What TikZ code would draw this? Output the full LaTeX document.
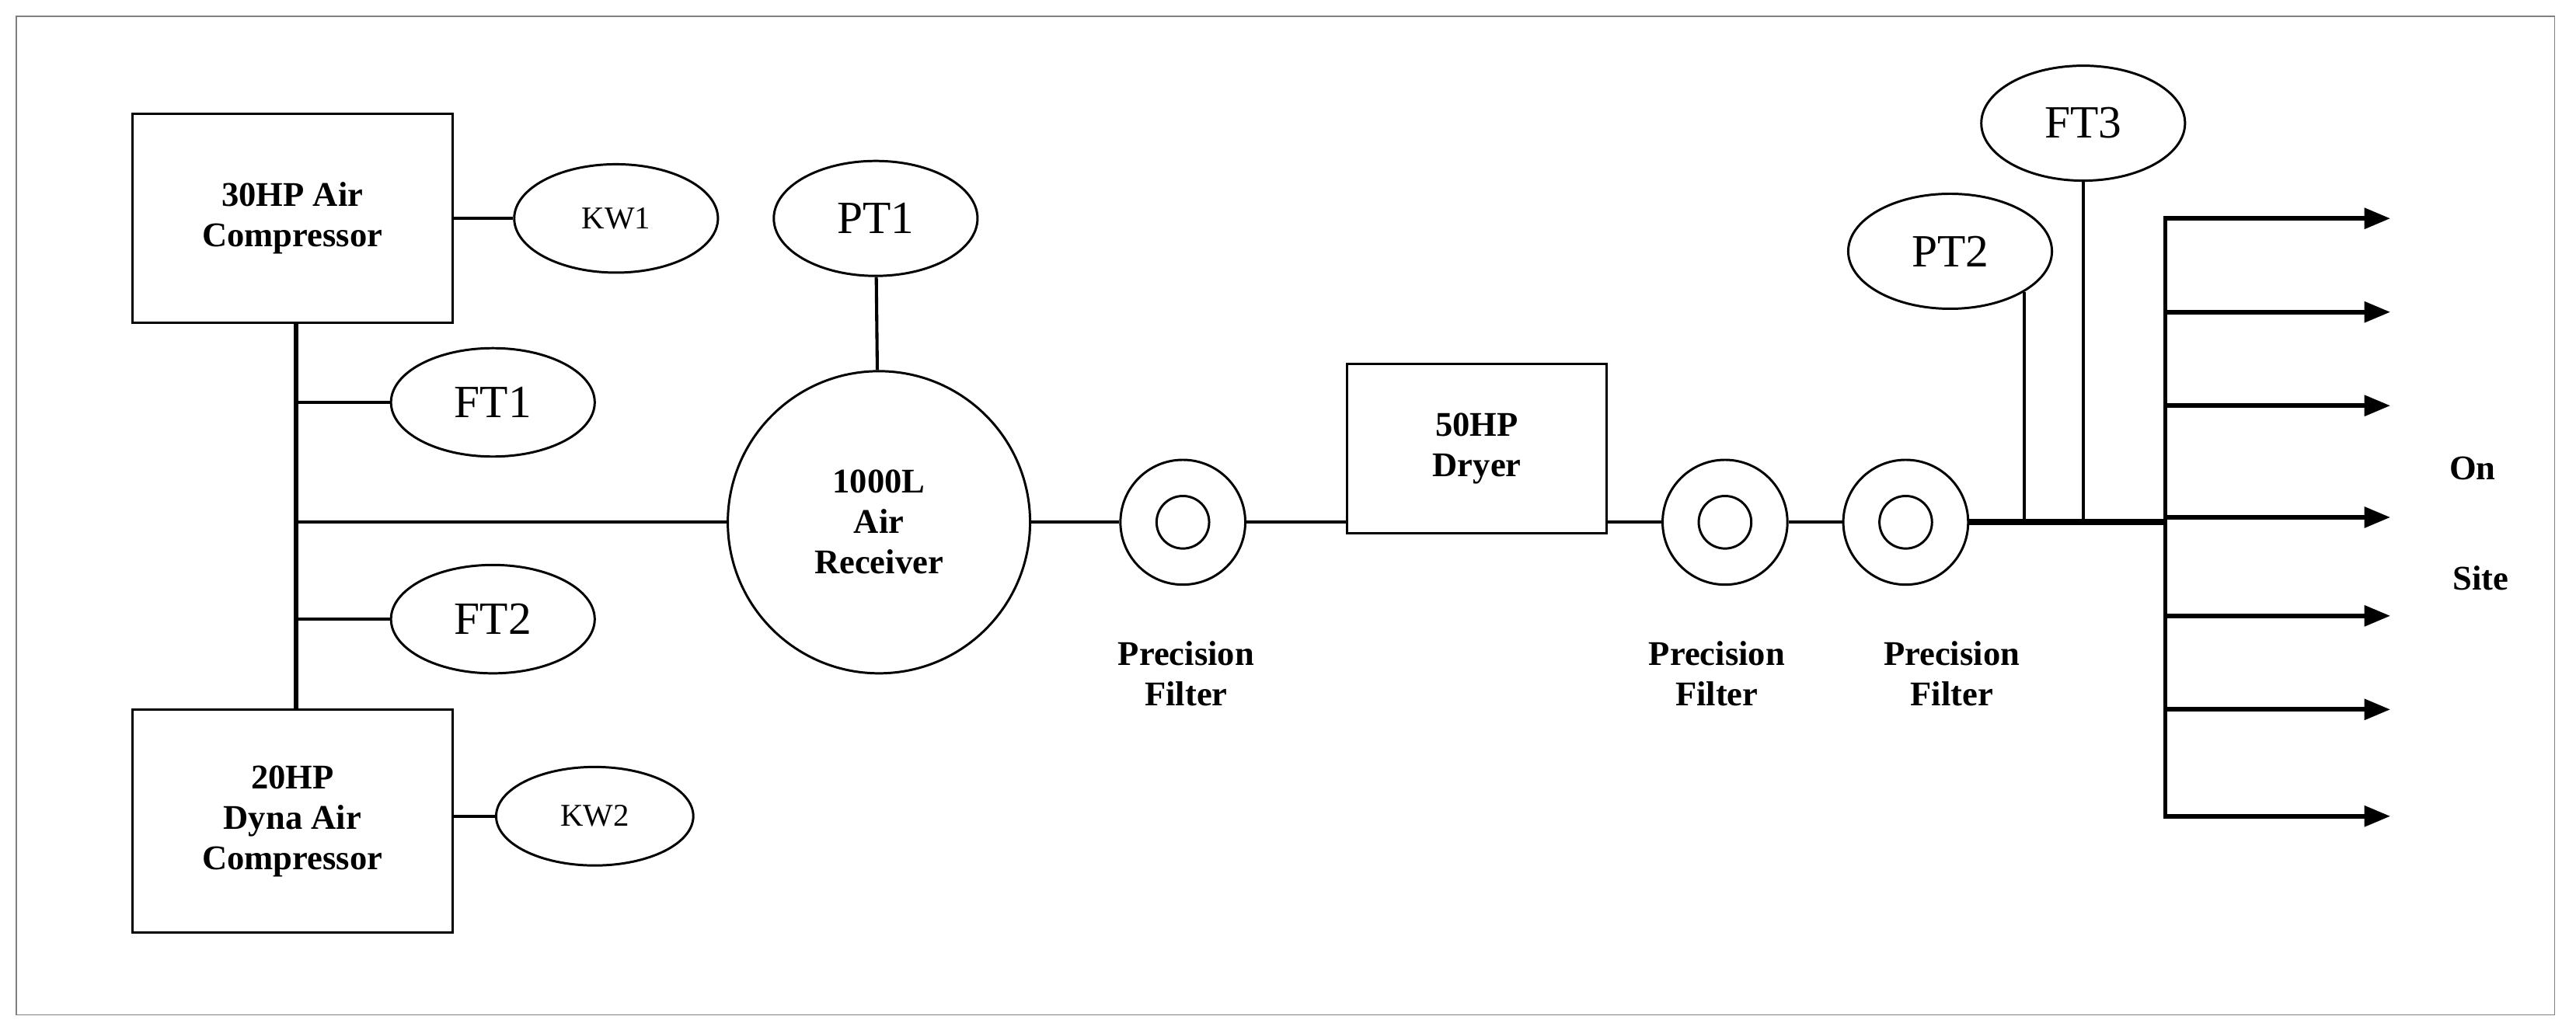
\documentclass[tikz,border=0pt]{standalone}
\usepackage{fontspec}
\setmainfont{Liberation Serif}
\usetikzlibrary{shapes.geometric,positioning,arrows.meta}
\begin{document}
\begin{tikzpicture}[x=0.02cm,y=-0.02cm,
  box/.style={draw,thick,font=\fontsize{12}{14}\selectfont\bfseries,align=center,inner sep=0pt},
  tag/.style={draw,thick,ellipse,minimum width=124*0.02cm,minimum height=66*0.02cm,inner sep=0pt,font=\fontsize{16}{18}\selectfont},
  kw/.style={tag,font=\fontsize{11}{13}\selectfont},
  filt/.style={draw,thick,circle,minimum size=76*0.02cm,inner sep=0pt},
  lbl/.style={font=\fontsize{12}{14}\selectfont\bfseries,align=center},
  pipe/.style={line width=1.1pt},
  feed/.style={line width=1.6pt,-{Triangle[length=9pt,width=7pt]}}]
\useasboundingbox (0,0) rectangle (1568,627);
\draw[gray] (10,10) rectangle (1555,618);
% compressors
\node[box,minimum width=195*0.02cm,minimum height=127*0.02cm] (c30) at (178,133) {30HP Air\\Compressor};
\node[box,minimum width=195*0.02cm,minimum height=136*0.02cm] (c20) at (178,500) {20HP\\Dyna Air\\Compressor};
\node[kw] (kw1) at (375,133) {KW1};
\node[kw,minimum width=120*0.02cm,minimum height=60*0.02cm] (kw2) at (362,497) {KW2};
\draw[pipe] (c30) -- (kw1);
\draw[pipe] (c20.east |- kw2) -- (kw2);
\draw[line width=1.6pt] (180,197) coordinate (t) -- (180,432) coordinate (b);
\node[tag] (ft1) at (300,245) {FT1};
\node[tag] (ft2) at (300,377) {FT2};
\draw[pipe] (ft1 -| t) -- (ft1);
\draw[pipe] (ft2 -| t) -- (ft2);
% receiver
\node[draw,thick,circle,minimum size=184*0.02cm,lbl,inner sep=0pt] (rec) at (535,318) {1000L\\Air\\Receiver};
\node[tag,minimum height=70*0.02cm] (pt1) at (533,133) {PT1};
\draw[pipe] (pt1) -- (rec);
\draw[pipe] (rec.west -| t) -- (rec);
% filters and dryer
\node[filt] (f1) at (720,318) {};
\draw[thick] (f1) circle[radius=16*0.02cm];
\node[lbl] at (722,410) {Precision\\Filter};
\node[box,minimum width=158*0.02cm,minimum height=103*0.02cm] (dry) at (899,273) {50HP\\Dryer};
\node[filt] (f2) at (1050,318) {};
\draw[thick] (f2) circle[radius=16*0.02cm];
\node[lbl] at (1045,410) {Precision\\Filter};
\node[filt] (f3) at (1160,318) {};
\draw[thick] (f3) circle[radius=16*0.02cm];
\node[lbl] at (1188,410) {Precision\\Filter};
\draw[pipe] (rec) -- (f1);
\draw[pipe] (f1) -- (f1 -| dry.west);
\draw[pipe] (f2 -| dry.east) -- (f2);
\draw[pipe] (f2) -- (f3);
\draw[line width=2.2pt] (f3) -- (1318,318) coordinate (hub);
% transmitters
\node[tag,minimum height=70*0.02cm] (pt2) at (1187,153) {PT2};
\node[tag,minimum height=70*0.02cm] (ft3) at (1268,75) {FT3};
\draw[pipe] (1232,178) -- (1232,318);
\draw[pipe] (ft3) -- (ft3 |- hub);
% distribution
\draw[line width=1.6pt] (1318,133) -- (1318,497);
\foreach \y in {133,190,247,315,375,432,497}
  \draw[feed] (1317,\y) -- (1455,\y);
\node[lbl] at (1505,285) {On};
\node[lbl] at (1510,352) {Site};
\end{tikzpicture}
\end{document}
